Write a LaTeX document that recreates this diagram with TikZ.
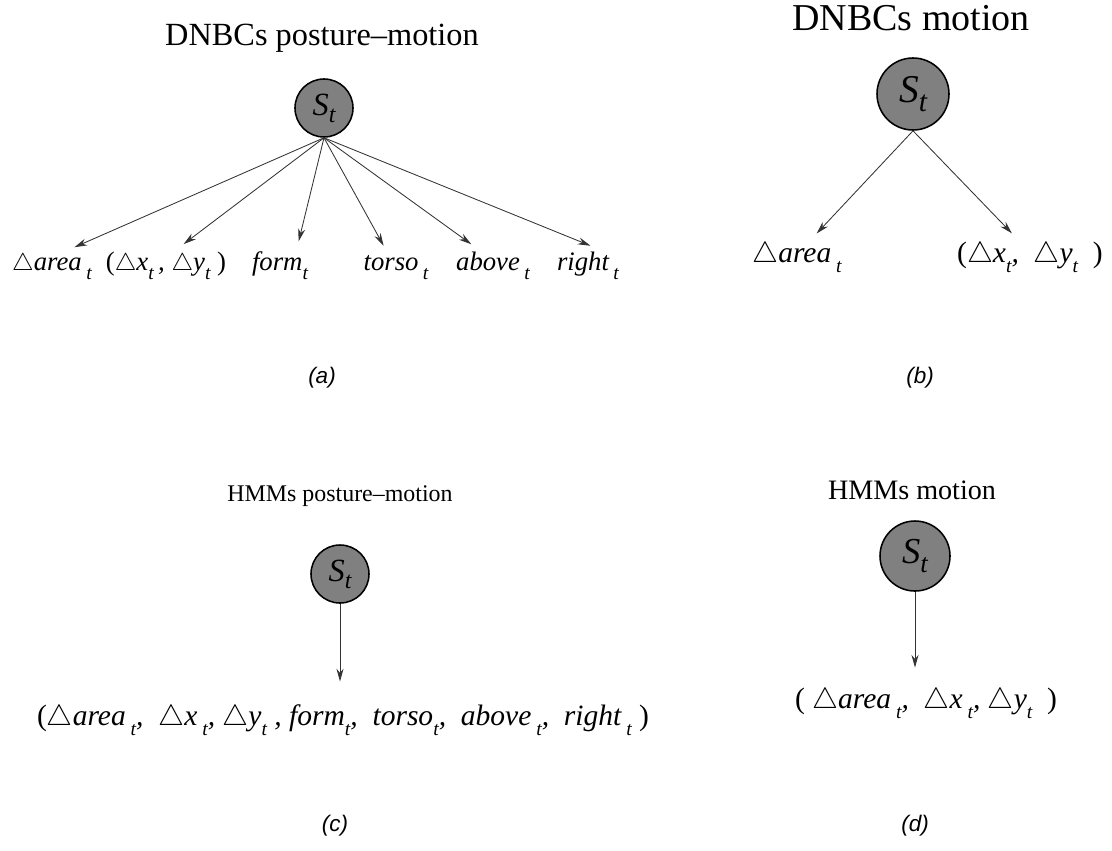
\documentclass[tikz,border=0pt]{standalone}
\usepackage{fontspec}
\setmainfont{Liberation Serif}
\newfontfamily\capfont{Liberation Sans}
\usetikzlibrary{positioning,arrows.meta}
\tikzset{>={Stealth[length=9pt,width=5pt]}}
\newcommand{\dlt}{$\triangle$}
\newcommand{\tsb}{\raisebox{-.35em}{\fontsize{14}{15}\selectfont\itshape t}}
\newcommand{\ssb}[1]{\raisebox{-.22em}{\fontsize{#1}{#1}\selectfont\itshape t}}
\tikzset{
  state/.style={circle, draw=black, fill=black!50, line width=1.1pt, inner sep=0pt,
    minimum size=1.45cm, font=\itshape\fontsize{23}{26}\selectfont},
  lab/.style={font=\itshape\fontsize{19}{22}\selectfont, inner sep=2pt, anchor=base},
  title/.style={font=\fontsize{23}{26}\selectfont},
  caption/.style={font=\capfont\itshape\fontsize{16}{19}\selectfont},
  edge/.style={->, draw=black!80, line width=.6pt, shorten >=5pt}
}

\begin{document}
\begin{tikzpicture}[x=0.025cm, y=-0.025cm]
  \useasboundingbox (0,0) rectangle (1112,850);
  % (a) DNBCs posture-motion
  \node[title] (ta) at (322,38) {DNBCs posture--motion};
  \node[state] (sa) at (324,108) {S\ssb{17}};
  \node[lab] (a1) at (52,270) {\dlt area\,\tsb};
  \node[lab] (a2) at (166,270) {\textup{(}\dlt x\tsb\,, \dlt y\tsb\ \textup{)}};
  \node[lab] (a3) at (280,270) {form\tsb};
  \node[lab] (a4) at (396,270) {torso\,\tsb};
  \node[lab] (a5) at (493,270) {above\,\tsb};
  \node[lab] (a6) at (588,270) {right\,\tsb};
  \foreach \i/\dx in {1/16,2/12,3/17,4/-9,5/-16,6/9}
    \draw[edge] (sa.south) -- ([xshift=\dx*0.025cm]a\i.north);
  \node[caption] (capa) at (322,378) {(a)};

  % (b) DNBCs motion
  \node[title, font=\fontsize{27}{30}\selectfont] (tb) at (911,18) {DNBCs motion};
  \node[state, minimum size=1.8cm, font=\itshape\fontsize{28}{30}\selectfont] (sb) at (913,94) {S\ssb{21}};
  \node[lab, font=\itshape\fontsize{21}{24}\selectfont] (b1) at (797,262) {\dlt area\,\tsb};
  \node[lab, font=\itshape\fontsize{21}{24}\selectfont] (b2) at (1030,262) {\textup{(}\dlt x\tsb,\ \ \dlt y\tsb\ \ \textup{)}};
  \draw[edge] (sb.south) -- ([xshift=.37cm]b1.north);
  \draw[edge] (sb.south) -- ([xshift=-.33cm]b2.north);
  \node[caption] (capb) at (920,378) {(b)};

  % (c) HMMs posture-motion
  \node[title, font=\fontsize{17}{20}\selectfont] (tc) at (340,496) {HMMs posture--motion};
  \node[state] (sc) at (340,574) {S\ssb{17}};
  \node[lab, font=\itshape\fontsize{21}{24}\selectfont] (c1) at (343,725) {\textup{(}\dlt area\,\tsb,\ \ \dlt x\,\tsb, \dlt y\tsb\ , form\tsb,\ \ torso\tsb,\ \ above\,\tsb,\ \ right\,\tsb\ \textup{)}};
  \draw[edge, shorten >=14pt] (sc) -- (c1.north -| sc);
  \node[caption] (capc) at (335,826) {(c)};

  % (d) HMMs motion
  \node[title, font=\fontsize{20}{24}\selectfont] (td) at (912,490) {HMMs motion};
  \node[state, minimum size=1.75cm, font=\itshape\fontsize{26}{28}\selectfont] (sd) at (915,556) {S\ssb{19}};
  \node[lab, font=\itshape\fontsize{21}{24}\selectfont] (d1) at (926,708) {\textup{(} \dlt area\,\tsb,\ \ \dlt x\,\tsb, \dlt y\tsb\ \ \textup{)}};
  \draw[edge, shorten >=12pt] (sd) -- (d1.north -| sd);
  \node[caption] (capd) at (915,826) {(d)};
\end{tikzpicture}
\end{document}
